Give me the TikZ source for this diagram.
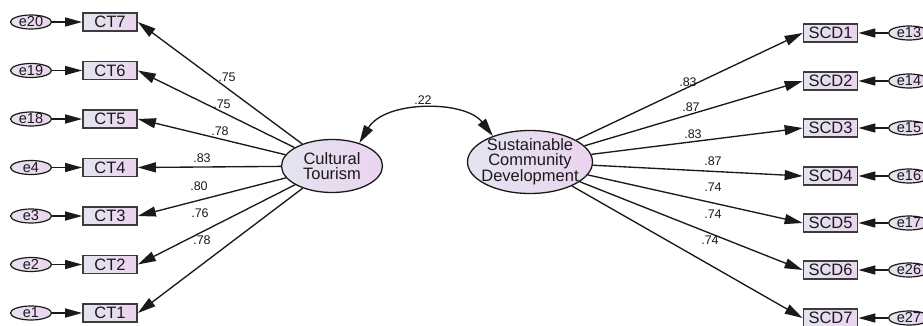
\documentclass[tikz,border=0pt]{standalone}
\usepackage{fontspec}
\setmainfont{Liberation Sans}
\usetikzlibrary{arrows.meta,shapes.geometric}
\definecolor{fillL}{HTML}{E3E5EF}
\definecolor{fillR}{HTML}{EBD3EF}
\definecolor{ink}{HTML}{1A1A1A}
\begin{document}
\begin{tikzpicture}[x=1pt,y=-1pt,
  obs/.style={draw=ink!85,line width=1.7pt,rectangle,minimum width=54pt,minimum height=18pt,inner sep=0pt,
    left color=fillL,right color=fillR,font=\fontsize{16.5}{17}\selectfont,text=ink},
  err/.style={draw=ink,line width=1.2pt,ellipse,minimum width=41pt,minimum height=14pt,inner sep=0pt,
    left color=fillL,right color=fillR},
  errtxt/.style={label={[font=\fontsize{14.5}{15}\selectfont,text=ink,inner sep=0pt]center:#1}},
  lat/.style={draw=ink,line width=1.3pt,ellipse,inner sep=0pt,left color=fillL,right color=fillR},
  lattxt/.style={label={[font=\fontsize{16.5}{15}\selectfont,text=ink,align=center,inner sep=0pt]center:#1}},
  load/.style={draw=ink,line width=1.35pt,-{Triangle[length=18pt,width=10pt]}},
  errarr/.style={draw=ink,line width=1.35pt,-{Triangle[length=17pt,width=9pt]}},
  coef/.style={font=\fontsize{12.5}{13}\selectfont,text=ink,inner sep=0pt}]
\useasboundingbox (0,0) rectangle (923,326);

% latent variables
\node[lat,minimum width=101pt,minimum height=53pt,lattxt={Cultural\\Tourism}] (ct) at (332,166) {};
\node[lat,minimum width=125pt,minimum height=63pt,lattxt={Sustainable\\Community\\Development}] (scd) at (530,162) {};

% Cultural Tourism indicators and their errors
\foreach \n/\e/\y in {7/20/22, 6/19/70.5, 5/18/119, 4/4/167.5, 3/3/216, 2/2/264.5, 1/1/313}{
  \node[obs] (ct\n) at (110,\y) {CT\n};
  \node[err,errtxt={e\e}] (e\e) at (31,\y) {};
  \draw[errarr] (e\e) -- (ct\n);
  \draw[load] (ct) -- (ct\n.east);
}

% Sustainable Community Development indicators and their errors
\foreach \n/\e/\y in {1/13/33, 2/14/81, 3/15/128, 4/16/176, 5/17/223, 6/26/270, 7/27/318}{
  \node[obs] (scd\n) at (830.5,\y) {SCD\n};
  \node[err,errtxt={e\e}] (e\e) at (909,\y) {};
  \draw[errarr] (e\e) -- (scd\n);
  \draw[load] (scd) -- (scd\n.west);
}

% covariance between the latent variables
\draw[draw=ink,line width=1.35pt,{Triangle[length=18pt,width=10pt]}-{Triangle[length=18pt,width=10pt]}]
  (ct.40) .. controls (385,100) and (465,100) .. (scd.145);
\node[coef] (c0) at (423,100) {.22};

% standardized loadings, left
\node[coef] (l7) at (227,77) {.75};
\node[coef] (l6) at (222,104) {.75};
\node[coef] (l5) at (220,131) {.78};
\node[coef] (l4) at (202,158) {.83};
\node[coef] (l3) at (199,186) {.80};
\node[coef] (l2) at (200,213) {.76};
\node[coef] (l1) at (202,240) {.78};

% standardized loadings, right
\node[coef] (r1) at (688,82) {.83};
\node[coef] (r2) at (691,107) {.87};
\node[coef] (r3) at (693,134) {.83};
\node[coef] (r4) at (713,161) {.87};
\node[coef] (r5) at (713,187) {.74};
\node[coef] (r6) at (713,214) {.74};
\node[coef] (r7) at (710,240) {.74};
\end{tikzpicture}
\end{document}
